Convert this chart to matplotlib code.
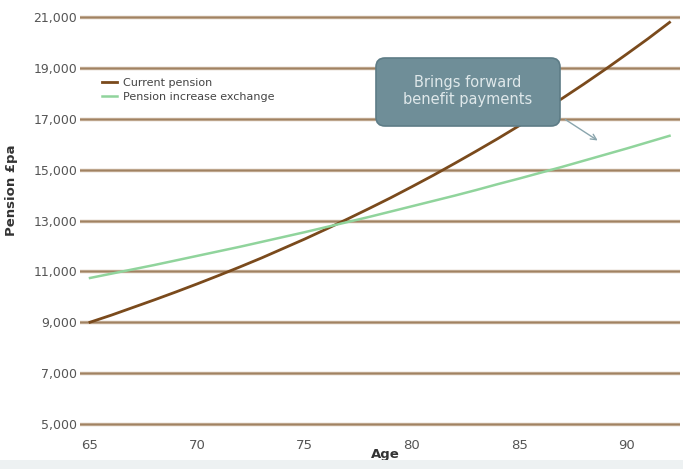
import matplotlib.pyplot as plt
from matplotlib.patches import FancyBboxPatch, Rectangle
from matplotlib.transforms import IdentityTransform

# Projected pension by age
ages = list(range(65, 93))
current_pension = [9000, 9280, 9580, 9880, 10190, 10510, 10840, 11180, 11530, 11900,
                   12270, 12660, 13060, 13470, 13890, 14330, 14780, 15250, 15730, 16220,
                   16730, 17260, 17800, 18360, 18940, 19540, 20150, 20790]
increase_exchange = [10740, 10910, 11080, 11250, 11430, 11610, 11790, 11970, 12160, 12350,
                     12540, 12740, 12940, 13140, 13350, 13560, 13770, 13980, 14200, 14430,
                     14650, 14880, 15110, 15350, 15590, 15830, 16080, 16330]

y_ticks = [5000, 7000, 9000, 11000, 13000, 15000, 17000, 19000, 21000]
x_ticks = [65, 70, 75, 80, 85, 90]

fig = plt.figure(figsize=(6.83, 4.69), dpi=100)
ax = fig.add_axes([0.117, 0.0906, 0.879, 0.8785])

# horizontal gridlines in tan
for y in y_ticks:
    ax.axhline(y, color='#c2ab93', lw=2.4, zorder=1)
    ax.axhline(y, color='#a08262', lw=0.9, zorder=1)

ax.plot(ages, current_pension, color='#7a4a1c', lw=2, label='Current pension', zorder=3)
ax.plot(ages, increase_exchange, color='#90d49c', lw=1.8, label='Pension increase exchange', zorder=3)

ax.set_xlim(64.53, 92.5)
ax.set_ylim(4900, 21100)
ax.set_yticks(y_ticks)
ax.set_yticklabels([f'{v:,}' for v in y_ticks])
ax.set_xticks(x_ticks)
ax.tick_params(axis='y', length=0, pad=2, labelsize=9, labelcolor='#555555')
ax.tick_params(axis='x', length=0, pad=9, labelsize=9.5, labelcolor='#555555')
for s in ax.spines.values():
    s.set_visible(False)

ax.set_xlabel('Age', fontsize=9.5, fontweight='bold', color='#333333', va='center')
ax.xaxis.set_label_coords(0.508, -0.067)
ax.set_ylabel('Pension £pa', fontsize=9.5, fontweight='bold', color='#333333')
ax.yaxis.set_label_coords(-0.103, 0.574)

ax.legend(loc='upper left', bbox_to_anchor=(0.02, 0.87), frameon=False,
          fontsize=8, handlelength=1.4, handletextpad=0.5, labelspacing=0.35,
          labelcolor='#444444')

# callout box
box = FancyBboxPatch((376, 343), 184, 68, boxstyle='round,pad=0,rounding_size=9',
                     transform=IdentityTransform(), fc='#6f8e98', ec='#5d7c86', lw=1.2, zorder=5)
fig.patches.append(box)
fig.text(468 / 683, 1 - 91 / 469, 'Brings forward\nbenefit payments', ha='center', va='center',
         fontsize=10.5, color='#dfe8ea', linespacing=1.2, zorder=6)
ax.annotate('', xy=(600, 327), xycoords='figure pixels', xytext=(563, 351),
            textcoords='figure pixels',
            arrowprops=dict(arrowstyle='->', color='#8aa5ad', lw=1))

# light strip along the bottom edge
fig.patches.append(Rectangle((0, 0), 1, 9 / 469, transform=fig.transFigure,
                             fc='#edf1f2', ec='none'))

plt.savefig('out.png', dpi=100)
